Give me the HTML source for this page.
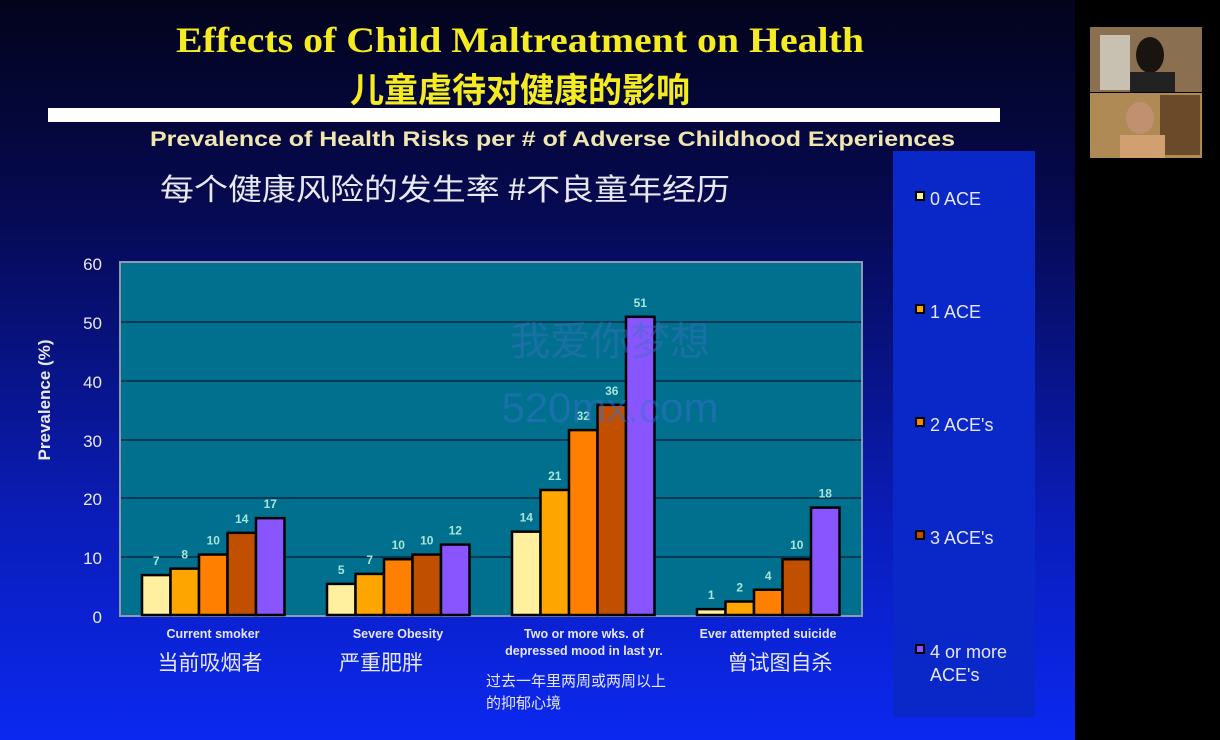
<!DOCTYPE html>
<html><head><meta charset="utf-8"><style>
body{margin:0;width:1220px;height:740px;overflow:hidden;background:#000}
svg{display:block}
</style></head><body>
<svg width="1220" height="740" xmlns="http://www.w3.org/2000/svg" font-family="Liberation Sans, Noto Sans CJK SC, sans-serif">
<defs>
<linearGradient id="bg" x1="0" y1="0" x2="0" y2="1">
<stop offset="0" stop-color="#03031c"/><stop offset="0.3" stop-color="#060a55"/><stop offset="0.7" stop-color="#0a1db8"/><stop offset="1" stop-color="#0b28f0"/>
</linearGradient>
</defs>
<rect x="0" y="0" width="1075" height="740" fill="url(#bg)"/>
<rect x="1075" y="0" width="145" height="740" fill="#000"/>
<!-- webcams -->
<rect x="1090" y="27" width="112" height="65" fill="#8a7050"/>
<rect x="1100" y="35" width="30" height="55" fill="#c8c0b0"/>
<ellipse cx="1150" cy="55" rx="14" ry="18" fill="#1a1410"/>
<rect x="1130" y="72" width="45" height="20" fill="#222"/>
<rect x="1090" y="93" width="112" height="65" fill="#b08a55"/>
<rect x="1160" y="95" width="40" height="60" fill="#6a4a28"/>
<ellipse cx="1140" cy="118" rx="14" ry="16" fill="#c09070"/>
<rect x="1120" y="135" width="45" height="23" fill="#d0a070"/>
<!-- titles -->
<text x="176" y="52" font-family="Liberation Serif, serif" font-weight="bold" font-size="36" fill="#f4ec20" textLength="688" lengthAdjust="spacingAndGlyphs">Effects of Child Maltreatment on Health</text>
<text x="520" y="102" text-anchor="middle" font-family="Noto Sans CJK SC, sans-serif" font-weight="bold" font-size="34" fill="#f4ec20">儿童虐待对健康的影响</text>
<rect x="48" y="108" width="952" height="14" fill="#fff"/>
<text x="150" y="146" font-weight="bold" font-size="21" fill="#f0e6b0" textLength="805" lengthAdjust="spacingAndGlyphs">Prevalence of Health Risks per # of Adverse Childhood Experiences</text>
<text x="160" y="200" font-family="Noto Sans CJK SC, sans-serif" font-size="30" fill="#e8e8f0" textLength="570" lengthAdjust="spacingAndGlyphs">每个健康风险的发生率 #不良童年经历</text>
<!-- legend -->
<rect x="893" y="151" width="142" height="566" fill="#0a28c8"/>
<g font-size="18" fill="#e6e6f0">
<rect x="916" y="192" width="8" height="8" fill="#fff0a0" stroke="#000" stroke-width="2"/><text x="930" y="205">0 ACE</text>
<rect x="916" y="305" width="8" height="8" fill="#ffa500" stroke="#000" stroke-width="2"/><text x="930" y="318">1 ACE</text>
<rect x="916" y="418" width="8" height="8" fill="#ff8000" stroke="#000" stroke-width="2"/><text x="930" y="431">2 ACE's</text>
<rect x="916" y="531" width="8" height="8" fill="#c05000" stroke="#000" stroke-width="2"/><text x="930" y="544">3 ACE's</text>
<rect x="916" y="645" width="8" height="8" fill="#8855ff" stroke="#000" stroke-width="2"/><text x="930" y="658">4 or more</text><text x="930" y="681">ACE's</text>
</g>
<!-- plot -->
<rect x="120" y="262" width="742" height="354" fill="#00708e" stroke="#8a9ab0" stroke-width="2"/>
<g stroke="#053a55" stroke-width="2">
<line x1="121" y1="322" x2="861" y2="322"/><line x1="121" y1="381" x2="861" y2="381"/>
<line x1="121" y1="440" x2="861" y2="440"/><line x1="121" y1="498" x2="861" y2="498"/>
<line x1="121" y1="557" x2="861" y2="557"/>
</g>
<g font-size="17" fill="#e8e8f0" text-anchor="end">
<text x="102" y="270">60</text><text x="102" y="329">50</text><text x="102" y="388">40</text><text x="102" y="447">30</text><text x="102" y="505">20</text><text x="102" y="564">10</text><text x="102" y="623">0</text>
</g>
<text transform="translate(50,400) rotate(-90)" text-anchor="middle" font-weight="bold" font-size="17" fill="#e8e8f0">Prevalence (%)</text>
<g stroke="#000" stroke-width="2.5" id="bars"></g>
<g font-size="12" fill="#a8e4d8" font-weight="bold" text-anchor="middle" id="vals"></g>
<!-- categories -->
<g font-size="12.5" font-weight="bold" fill="#e6e6f0" text-anchor="middle">
<text x="213" y="638">Current smoker</text>
<text x="398" y="638">Severe Obesity</text>
<text x="584" y="638">Two or more wks. of</text>
<text x="584" y="655">depressed mood in last yr.</text>
<text x="768" y="638">Ever attempted suicide</text>
</g>
<g font-family="Noto Sans CJK SC, sans-serif" font-size="21" fill="#e6e6f0" text-anchor="middle">
<text x="210" y="670">当前吸烟者</text>
<text x="381" y="670">严重肥胖</text>
<text x="780" y="670">曾试图自杀</text>
</g>
<g font-family="Noto Sans CJK SC, sans-serif" font-size="15" fill="#e6e6f0">
<text x="486" y="686">过去一年里两周或两周以上</text>
<text x="486" y="708">的抑郁心境</text>
</g>
<text x="610" y="355" text-anchor="middle" font-family="Noto Sans CJK SC, sans-serif" font-size="40" fill="#3a70c0" opacity="0.45">我爱你梦想</text>
<text x="610" y="422" text-anchor="middle" font-size="42" fill="#3a70d0" opacity="0.45">520mx.com</text>
<script>
var disp=[[7,8,10,14,17],[5,7,10,10,12],[14,21,32,36,51],[1,2,4,10,18]];
var real=[[6.8,7.9,10.3,14,16.5],[5.3,7,9.5,10.3,12],[14.2,21.3,31.5,35.8,50.8],[1,2.3,4.3,9.5,18.3]];
var starts=[142,327,512,697],w=28.5,cols=["#fff0a0","#ffa500","#ff8000","#c05000","#8855ff"];
var b=document.getElementById("bars"),v=document.getElementById("vals"),ns="http://www.w3.org/2000/svg";
for(var g=0;g<4;g++)for(var i=0;i<5;i++){var h=real[g][i]*5.87,x=starts[g]+i*w,y=615-h;
var r=document.createElementNS(ns,"rect");r.setAttribute("x",x);r.setAttribute("y",y);r.setAttribute("width",w);r.setAttribute("height",h);r.setAttribute("fill",cols[i]);b.appendChild(r);
var t=document.createElementNS(ns,"text");t.setAttribute("x",x+w/2);t.setAttribute("y",y-10);t.textContent=disp[g][i];v.appendChild(t);}
</script>
</svg>
</body></html>
